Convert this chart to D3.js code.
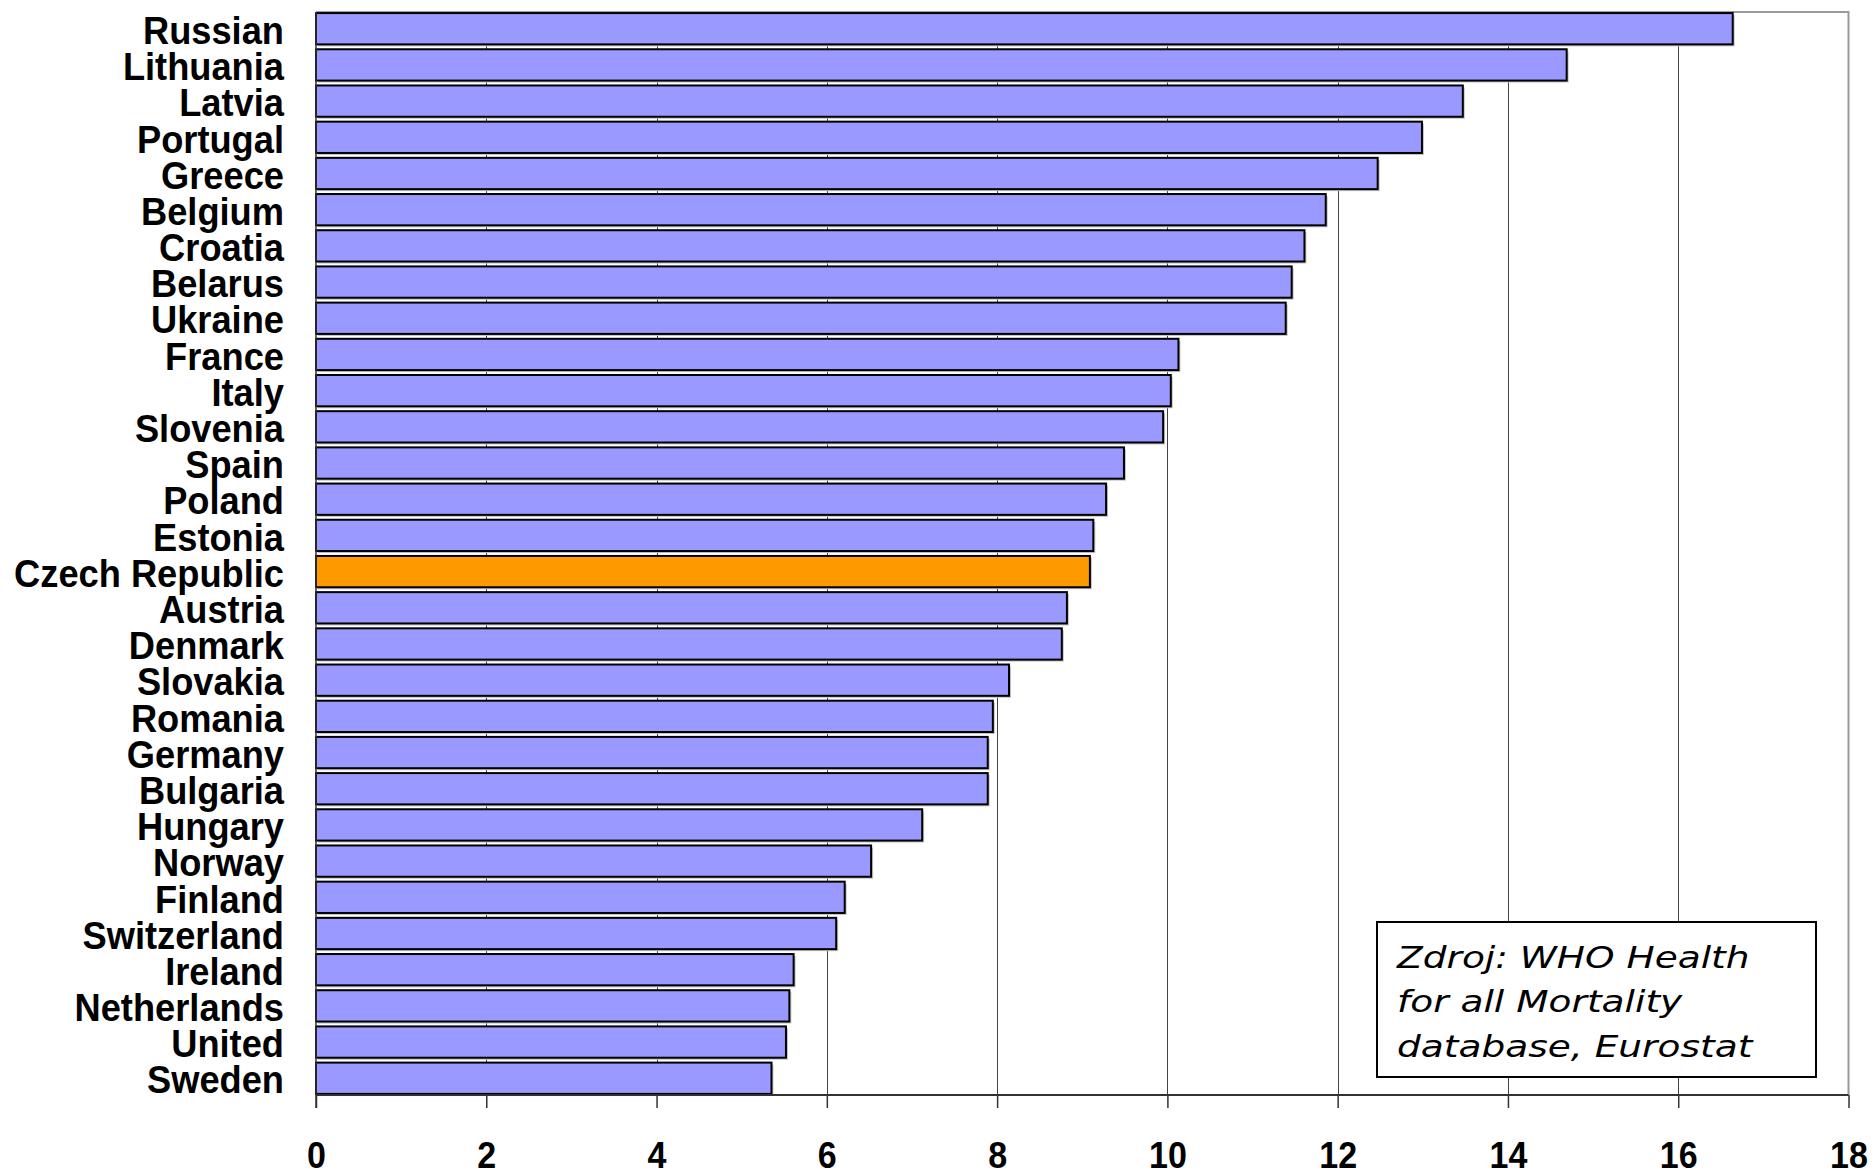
<!DOCTYPE html>
<html>
<head>
<meta charset="utf-8">
<script src="https://cdn.jsdelivr.net/npm/d3@7"></script>
<style>
  html, body { margin: 0; padding: 0; background: #fff; }
  svg { display: block; }
</style>
</head>
<body>
<svg id="chart" width="1873" height="1174"></svg>
<script>
// Countries, top to bottom
const countries = [
  "Russian", "Lithuania", "Latvia", "Portugal", "Greece", "Belgium", "Croatia",
  "Belarus", "Ukraine", "France", "Italy", "Slovenia", "Spain", "Poland",
  "Estonia", "Czech Republic", "Austria", "Denmark", "Slovakia", "Romania",
  "Germany", "Bulgaria", "Hungary", "Norway", "Finland", "Switzerland",
  "Ireland", "Netherlands", "United", "Sweden"
];

// Rate per country, same order
const values = [
  16.64, 14.69, 13.47, 12.99, 12.47, 11.86, 11.61,
  11.46, 11.39, 10.13, 10.04, 9.95, 9.49, 9.28,
  9.13, 9.09, 8.82, 8.76, 8.14, 7.95,
  7.89, 7.89, 7.12, 6.52, 6.21, 6.11,
  5.61, 5.56, 5.52, 5.35
];

const highlighted = "Czech Republic";
const xTicks = [0, 2, 4, 6, 8, 10, 12, 14, 16, 18];
const sourceLines = ["Zdroj: WHO Health", "for all Mortality", "database, Eurostat"];

const data = countries.map((c, i) => ({ country: c, value: values[i] }));

const plot = { left: 316, right: 1848.5, top: 12, bottom: 1095 };

const svg = d3.select("#chart");

const x = d3.scaleLinear().domain([0, 18]).range([plot.left, plot.right]);
const y = d3.scaleBand()
  .domain(countries)
  .range([plot.top, plot.bottom])
  .paddingInner(0.135)
  .paddingOuter(0.03);

// Vertical gridlines
svg.append("g")
  .selectAll("line")
  .data(xTicks.slice(1, -1))
  .join("line")
  .attr("x1", d => Math.round(x(d)) + 0.5)
  .attr("x2", d => Math.round(x(d)) + 0.5)
  .attr("y1", plot.top)
  .attr("y2", plot.bottom)
  .attr("stroke", "#444")
  .attr("stroke-width", 1);

// Plot frame: top and right edges
svg.append("path")
  .attr("d", `M${plot.left},${plot.top}H${plot.right}V${plot.bottom}`)
  .attr("fill", "none")
  .attr("stroke", "#999")
  .attr("stroke-width", 2);

// Bar shadows
svg.append("g")
  .selectAll("rect")
  .data(data)
  .join("rect")
  .attr("x", x(0) + 2)
  .attr("y", d => y(d.country) + 2)
  .attr("width", d => x(d.value) - x(0))
  .attr("height", y.bandwidth())
  .attr("fill", "#c4c4c4");

// Bars
svg.append("g")
  .selectAll("rect")
  .data(data)
  .join("rect")
  .attr("x", x(0))
  .attr("y", d => y(d.country))
  .attr("width", d => x(d.value) - x(0))
  .attr("height", y.bandwidth())
  .attr("fill", d => d.country === highlighted ? "#FF9900" : "#9999FF")
  .attr("stroke", "#000")
  .attr("stroke-width", 2);

// Bottom axis
const xAxis = svg.append("g")
  .attr("transform", `translate(0,${plot.bottom})`)
  .call(d3.axisBottom(x).tickValues(xTicks).tickSize(13).tickPadding(34).tickFormat(d3.format("d")));
xAxis.select(".domain").remove();
xAxis.selectAll(".tick line").attr("stroke", "#333").attr("stroke-width", 1.5);
xAxis.selectAll(".tick text")
  .attr("fill", "#000")
  .attr("font-family", "'Liberation Sans', Arial, sans-serif")
  .attr("font-weight", "bold")
  .attr("font-size", 37)
  .attr("transform", "scale(0.92,1)");

// Axis lines
svg.append("line")
  .attr("x1", plot.left).attr("x2", plot.right)
  .attr("y1", plot.bottom).attr("y2", plot.bottom)
  .attr("stroke", "#333").attr("stroke-width", 2);
svg.append("line")
  .attr("x1", plot.left).attr("x2", plot.left)
  .attr("y1", plot.top).attr("y2", plot.bottom + 13)
  .attr("stroke", "#333").attr("stroke-width", 1.5);

// Country labels
const yAxis = svg.append("g")
  .attr("transform", `translate(${plot.left},0)`)
  .call(d3.axisLeft(y).tickSize(0).tickPadding(0));
yAxis.select(".domain").remove();
yAxis.selectAll(".tick text")
  .attr("x", null)
  .attr("dy", "0.39em")
  .attr("fill", "#000")
  .attr("font-family", "'Liberation Sans', Arial, sans-serif")
  .attr("font-weight", "bold")
  .attr("font-size", 39)
  .attr("transform", "translate(-32,0) scale(0.93,1)");

// Source note box
const box = { x: 1377, y: 922, w: 439, h: 155 };
svg.append("rect")
  .attr("x", box.x).attr("y", box.y)
  .attr("width", box.w).attr("height", box.h)
  .attr("fill", "#fff")
  .attr("stroke", "#000")
  .attr("stroke-width", 2);

svg.append("g")
  .attr("transform", `translate(${box.x + 20},0) scale(1.21,1)`)
  .selectAll("text")
  .data(sourceLines)
  .join("text")
  .attr("x", 0)
  .attr("y", (d, i) => 968 + i * 44.5)
  .attr("font-family", "'DejaVu Sans', Verdana, sans-serif")
  .attr("font-style", "italic")
  .attr("font-size", 31)
  .attr("fill", "#000")
  .text(d => d);
</script>
</body>
</html>
